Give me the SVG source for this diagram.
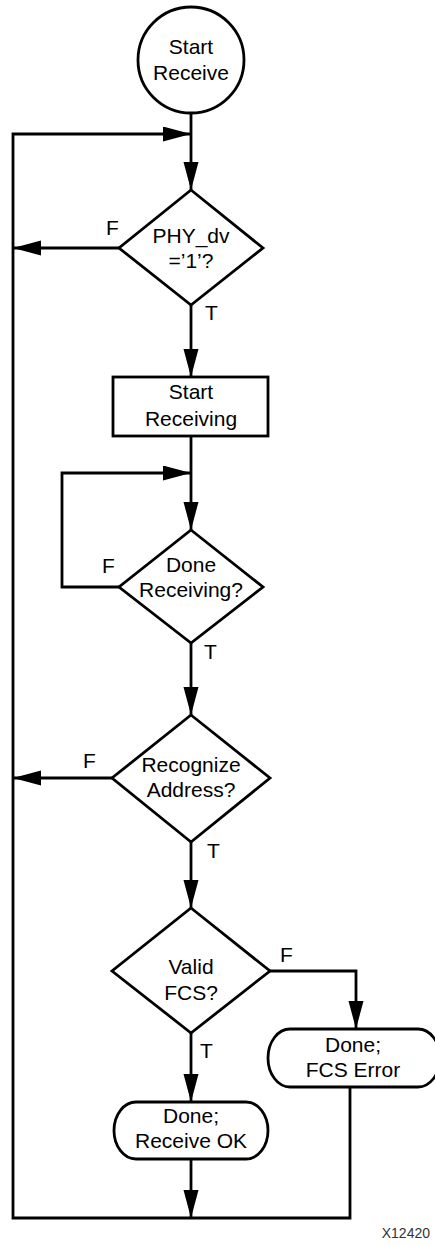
<svg xmlns="http://www.w3.org/2000/svg" width="435" height="1246" viewBox="0 0 435 1246">
<defs>
<marker id="ah" markerUnits="userSpaceOnUse" markerWidth="30" markerHeight="16" refX="28" refY="7.5" orient="auto">
<path d="M0,0 L28,7.5 L0,15 Z" fill="#000"/>
</marker>
<style>
.s{fill:#fff;stroke:#000;stroke-width:2.8}
.c{fill:none;stroke:#000;stroke-width:2.8;marker-end:url(#ah)}
text{font-family:"Liberation Sans",Arial,sans-serif;font-size:21px;fill:#000}
.m{text-anchor:middle}
</style>
</defs>
<rect width="435" height="1246" fill="#fff"/>
<g id="connectors">
<path class="c" d="M191,113 V190"/>
<path class="c" d="M350,1087 V1218 H13 V134 H191"/>
<path class="c" d="M119,248 H13"/>
<path class="c" d="M191,305 V377"/>
<path class="c" d="M191,436 V530"/>
<path class="c" d="M119,587 H62 V473 H191"/>
<path class="c" d="M191,643 V715"/>
<path class="c" d="M112,778 H13"/>
<path class="c" d="M191,842 V908"/>
<path class="c" d="M270,971 H356 V1029"/>
<path class="c" d="M191,1033 V1102"/>
<path class="c" d="M191,1159 V1218"/>
<text x="106" y="235">F</text>
<text x="205" y="320">T</text>
<text x="102" y="573">F</text>
<text x="204" y="659">T</text>
<text x="83" y="768">F</text>
<text x="207" y="858">T</text>
<text x="280" y="962">F</text>
<text x="200" y="1058">T</text>
</g>
<g id="start">
<circle class="s" cx="191" cy="60" r="53"/>
<text class="m" x="191" y="54">Start</text>
<text class="m" x="191" y="80">Receive</text>
</g>
<g id="phy_dv">
<path class="s" d="M191,190 L263,248 L191,305 L119,248 Z"/>
<text class="m" x="191" y="243">PHY_dv</text>
<text class="m" x="191" y="268">=’1’?</text>
</g>
<g id="start_receiving">
<rect class="s" x="113" y="377" width="155" height="59"/>
<text class="m" x="191" y="399">Start</text>
<text class="m" x="191" y="426">Receiving</text>
</g>
<g id="done_receiving">
<path class="s" d="M191,530 L263,587 L191,643 L119,587 Z"/>
<text class="m" x="191" y="572">Done</text>
<text class="m" x="191" y="597">Receiving?</text>
</g>
<g id="recognize_address">
<path class="s" d="M191,715 L270,778 L191,842 L112,778 Z"/>
<text class="m" x="191" y="772">Recognize</text>
<text class="m" x="191" y="797">Address?</text>
</g>
<g id="valid_fcs">
<path class="s" d="M191,908 L270,971 L191,1033 L112,971 Z"/>
<text class="m" x="191" y="974">Valid</text>
<text class="m" x="191" y="1000">FCS?</text>
</g>
<g id="fcs_error">
<path class="s" d="M290,1029 H418 A22,29 0 0 1 418,1087 H290 A22,29 0 0 1 290,1029 Z"/>
<text class="m" x="353" y="1052">Done;</text>
<text class="m" x="353" y="1077">FCS Error</text>
</g>
<g id="receive_ok">
<path class="s" d="M136,1102 H246 A22,28.5 0 0 1 246,1159 H136 A22,28.5 0 0 1 136,1102 Z"/>
<text class="m" x="191" y="1123">Done;</text>
<text class="m" x="191" y="1148">Receive OK</text>
</g>
<text x="430" y="1238" style="font-size:14px;fill:#333;text-anchor:end">X12420</text>
</svg>
